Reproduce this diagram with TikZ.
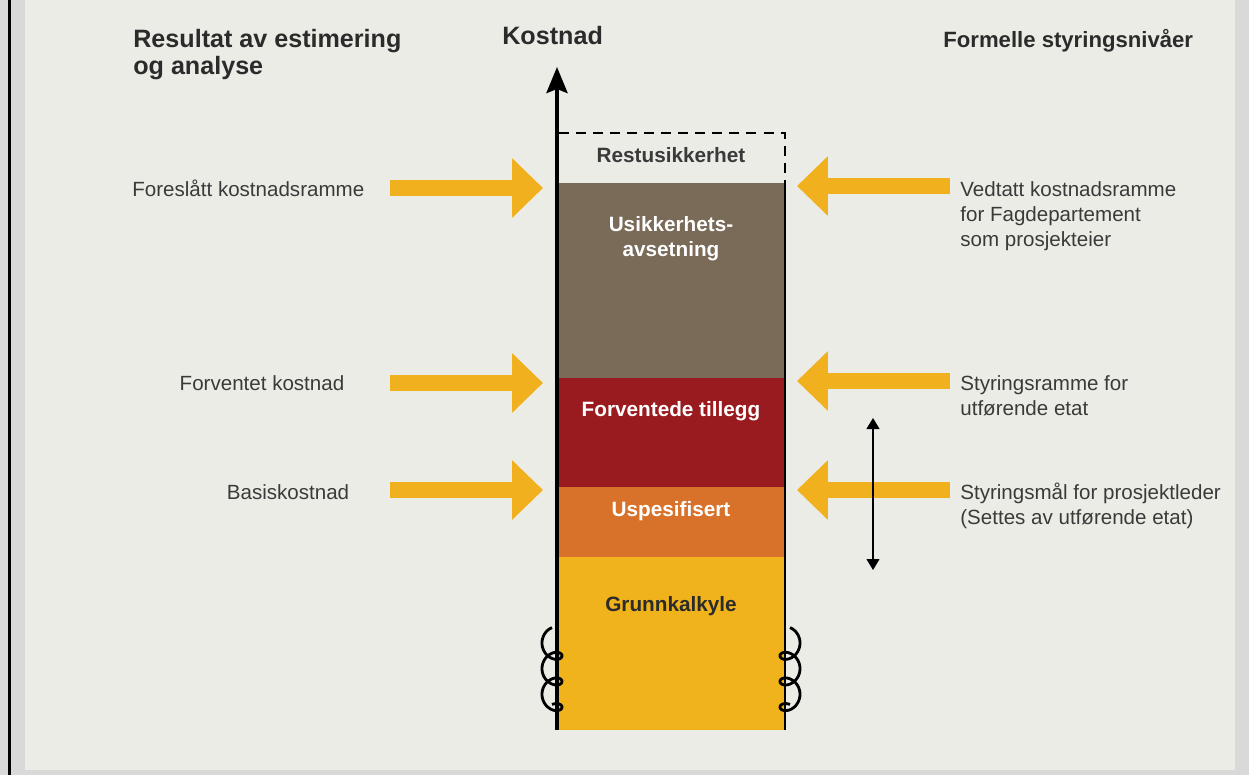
\documentclass[tikz,border=0pt]{standalone}
\usepackage{fontspec}
\setmainfont{Liberation Sans}
\usetikzlibrary{arrows.meta}

\definecolor{bgbeige}{HTML}{ECECE7}
\definecolor{bordergray}{HTML}{D9D9D9}
\definecolor{txtdark}{HTML}{2B2B2B}
\definecolor{txtgray}{HTML}{3A3A3A}
\definecolor{brownfill}{HTML}{7A6A58}
\definecolor{redfill}{HTML}{9A1B1F}
\definecolor{orangefill}{HTML}{D8722A}
\definecolor{yellowfill}{HTML}{F0B31B}
\definecolor{arrowyellow}{HTML}{F1B11E}

\tikzset{
  head/.style={font=\fontsize{14.3}{15.4}\selectfont\bfseries,text=txtdark,inner sep=0pt,align=left},
  lbl/.style={font=\fontsize{11.7}{14.2}\selectfont,text=txtgray,inner sep=0pt,align=left},
  inlbl/.style={font=\fontsize{11.8}{14.2}\selectfont\bfseries,inner sep=0pt,align=center},
  bigarrow/.style={draw=arrowyellow,line width=0.32cm,-{Triangle[length=0.62cm,width=1.16cm]}},
  curl/.style={line width=1.6pt,smooth,samples=160,domain=-1.5708:17.2788,variable=\t}
}

\begin{document}
\begin{tikzpicture}[x=0.02cm,y=-0.02cm]
  \useasboundingbox (0,0) rectangle (1249,775);
  % frame
  \fill[bordergray] (0,0) rectangle (1249,775);
  \fill[bgbeige] (25,0) rectangle (1235,770);
  \fill[black] (8,0) rectangle (11,775);

  % headings
  \node[head,anchor=north west] (hleft) at (133,29) {Resultat av estimering\\og analyse};
  \node[head,anchor=base west] (hmid) at (502,44) {Kostnad};
  \node[head,font=\fontsize{12.6}{15.4}\selectfont\bfseries,anchor=base west] (hright) at (943,47) {Formelle styringsnivåer};

  % column
  \fill[brownfill] (557,183) rectangle (785,378);
  \fill[redfill] (557,378) rectangle (785,487);
  \fill[orangefill] (557,487) rectangle (785,557);
  \fill[yellowfill] (557,557) rectangle (785,730);

  \coordinate (abot) at (557,730);
  \coordinate (atop) at (557,67);
  \coordinate (rbot) at (785,730);
  \coordinate (rtop) at (785,183);
  \draw[line width=2.3pt,-{Stealth[length=0.52cm,width=0.42cm,inset=0.08cm]}] (abot) -- (atop);
  \draw[line width=1.7pt] (rbot) -- (rtop);
  \draw[line width=1.1pt,dash pattern=on 5.7pt off 4pt] (559,133) -- (785,133) -- (rtop);
  % curls on the column sides
  \draw[curl] plot ({552-10*cos(\t r)},{643+4.08*\t+9*sin(\t r)});
  \draw[curl] plot ({790+10*cos(\t r)},{643+4.08*\t+9*sin(\t r)});

  \node[inlbl,text=txtgray,anchor=base] (rest) at (671,162) {Restusikkerhet};
  \node[inlbl,text=white,anchor=north] (usik) at (671,216) {Usikkerhets-\\avsetning};
  \node[inlbl,text=white,anchor=base] (fvt) at (671,416) {Forventede tillegg};
  \node[inlbl,text=white,anchor=base] (uspes) at (671,516) {Uspesifisert};
  \node[inlbl,text=txtdark,anchor=base] (grunn) at (671,611) {Grunnkalkyle};

  % left side
  \node[lbl,anchor=base west] (fores) at (132,196) {Foreslått kostnadsramme};
  \node[lbl,anchor=base] (forv) at (262,390) {Forventet kostnad};
  \node[lbl,anchor=base] (basis) at (288,499) {Basiskostnad};

  % right side
  \node[lbl,anchor=north west] (vedt) at (960,181) {Vedtatt kostnadsramme\\for Fagdepartement\\som prosjekteier};
  \node[lbl,anchor=north west] (styr) at (960,375) {Styringsramme for\\utførende etat};
  \node[lbl,anchor=north west] (styrm) at (960,483) {Styringsmål for prosjektleder\\(Settes av utførende etat)};

  % arrows
  \coordinate (la) at (390,188); \coordinate (lta) at (543,188);
  \coordinate (lb) at (390,383); \coordinate (ltb) at (543,383);
  \coordinate (lc) at (390,490); \coordinate (ltc) at (543,490);
  \coordinate (ra) at (950,186); \coordinate (rta) at (797,186);
  \coordinate (rb) at (950,381); \coordinate (rtb) at (797,381);
  \coordinate (rc) at (950,490); \coordinate (rtc) at (797,490);
  \foreach \from/\to in {la/lta,lb/ltb,lc/ltc,ra/rta,rb/rtb,rc/rtc}
    \draw[bigarrow] (\from) -- (\to);

  \coordinate (dtop) at (873,418);
  \coordinate (dbot) at (873,570);
  \draw[line width=0.6pt,{Triangle[length=0.22cm,width=0.26cm]}-{Triangle[length=0.22cm,width=0.26cm]}] (dtop) -- (dbot);
\end{tikzpicture}
\end{document}
